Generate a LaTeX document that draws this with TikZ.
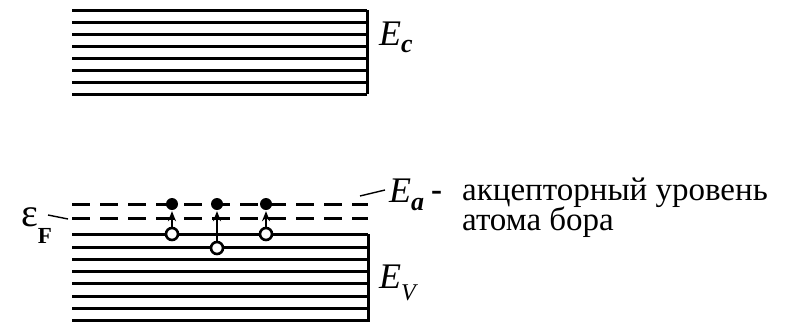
\documentclass[tikz,border=0pt]{standalone}
\usepackage{fontspec}
\setmainfont{Liberation Serif}
\usetikzlibrary{arrows.meta}

\begin{document}
\begin{tikzpicture}[x=1pt,y=-1pt,
  level/.style={line width=3pt},
  acclevel/.style={level,dash pattern=on 18pt off 10pt},
  elec/.style={circle,fill=black,inner sep=0pt,minimum size=12pt},
  hole/.style={circle,draw=black,fill=white,line width=2.6pt,inner sep=0pt,minimum size=12pt},
  jump/.style={line width=2.4pt,shorten >=1pt,-{Stealth[length=10pt,width=8pt]}},
  leader/.style={line width=1.4pt},
  lbl/.style={anchor=base west,inner sep=0pt,font=\fontsize{33}{30}\selectfont},
  sym/.style={lbl,font=\fontsize{36}{36}\selectfont}]
\useasboundingbox (0,0) rectangle (786,322);
% conduction band
\foreach \y in {10,22,...,94}
  \draw[level] (72,\y) -- (367,\y);
\draw[level] (367,10) -- (367,94);
% acceptor level
\foreach \y in {204,218}
  \draw[acclevel] (72,\y) -- (368,\y);
% valence band
\foreach \y in {234,247,259,271,283,296,308,320}
  \draw[level] (72,\y) -- (368,\y);
\draw[level] (368,234) -- (368,322);
% electrons and holes
\foreach \n/\x/\y in {1/172/234,2/217/248,3/266/234} {
  \node[elec] (e\n) at (\x,204) {};
  \draw[jump] (\x,\y) -- (e\n.south);
  \node[hole] (h\n) at (\x,\y) {};
}
% labels
\node[sym] (Ec) at (379,45) {\textit{E}\raisebox{-7pt}{\fontsize{26}{26}\selectfont\bfseries\itshape c}};
\node[sym] (Ea) at (389,202) {\textit{E}\raisebox{-8pt}{\fontsize{26}{26}\selectfont\bfseries\itshape a}};
\node[sym] (Ev) at (379,288) {\textit{E}\raisebox{-12pt}{\fontsize{24}{24}\selectfont\itshape V}};
\node[sym] (eF) at (21,226) {{\fontsize{40}{40}\selectfont ε}\raisebox{-17pt}{\fontsize{23}{23}\selectfont\bfseries F}};
\node[lbl] (dash) at (431,200) {\textbf{-}};
\node[lbl] (acc1) at (462,200) {акцепторный уровень};
\node[lbl] (acc2) at (462,230) {атома бора};
\coordinate (eFa) at (48,215);
\coordinate (eFb) at (68,219);
\draw[leader] (eFa) -- (eFb);
\coordinate (Eaa) at (360,196);
\coordinate (Eab) at (385,190);
\draw[leader] (Eaa) -- (Eab);
\end{tikzpicture}
\end{document}
